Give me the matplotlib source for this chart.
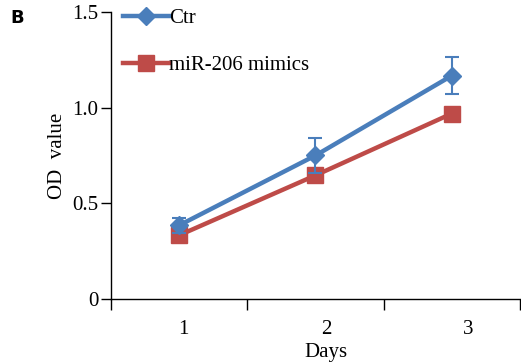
import numpy as np
import matplotlib
matplotlib.use("Agg")
import matplotlib.pyplot as plt
from matplotlib.lines import Line2D

days = [1, 2, 3]
day_labels = ["1", "2", "3"]
ctr = [0.385, 0.75, 1.167]
ctr_err = [0.04, 0.09, 0.095]
mir = [0.333, 0.646, 0.969]
mir_err = [0.015, 0.02, 0.025]

plt.rcParams["font.family"] = ["Liberation Serif", "DejaVu Serif"]

fig = plt.figure(figsize=(5.21, 3.62), dpi=100)
ax = fig.add_axes([0.213, 0.174, 0.785, 0.793])

blue = "#4A7EBB"
red = "#BE4B48"

ax.errorbar(days, ctr, yerr=ctr_err, color=blue, lw=3.2, marker="D",
            ms=9, capsize=5, elinewidth=1.5, capthick=1.5, zorder=3)
ax.errorbar(days, mir, yerr=mir_err, color=red, ecolor="#C00000", lw=3.2,
            marker="s", ms=11, capsize=5, elinewidth=1.5, capthick=1.5, zorder=2)

ax.set_xlim(0.5, 3.5)
ax.set_ylim(0, 1.5)
ax.set_yticks([0, 0.5, 1.0, 1.5])
ax.set_yticklabels(["0", "0.5", "1.0", "1.5"])
ax.tick_params(axis="y", direction="out", length=7, width=1, labelsize=15, pad=2)

# category boundaries as ticks, labels between them
ax.set_xticks([0.5, 1.5, 2.5, 3.5])
ax.set_xticklabels([])
ax.tick_params(axis="x", direction="out", length=8, width=1)
for d, lab, off in zip(days, day_labels, [0.03, 0.08, 0.12]):
    ax.text(d + off, -0.16, lab, ha="center", va="center", fontsize=15,
            clip_on=False)
ax.text(2.08, -0.28, "Days", ha="center", va="center", fontsize=15, clip_on=False)

ax.set_ylabel("OD  value", fontsize=15, labelpad=4)

for s in ["top", "right"]:
    ax.spines[s].set_visible(False)
ax.spines["left"].set_linewidth(1)
ax.spines["bottom"].set_linewidth(1)

handles = [Line2D([], [], color=blue, lw=3.2, marker="D", ms=9),
           Line2D([], [], color=red, lw=3.2, marker="s", ms=11)]
ax.legend(handles, ["Ctr", "miR-206 mimics"], loc="upper left",
          bbox_to_anchor=(0.0, 1.055), frameon=False, fontsize=15,
          handlelength=2.2, handletextpad=0.0, labelspacing=1.3,
          borderaxespad=0.2)

fig.text(0.02, 0.95, "B", fontsize=13, fontweight="bold", family="DejaVu Sans",
         ha="left", va="center")

fig.savefig("out.png", dpi=100)
